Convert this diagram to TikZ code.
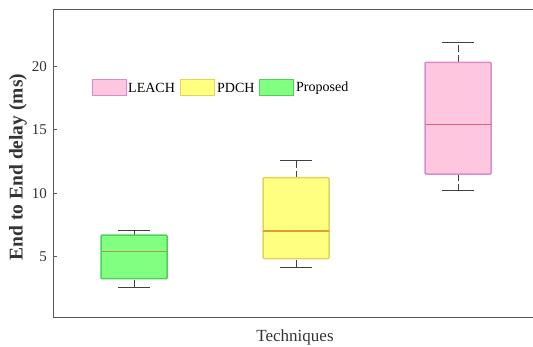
\documentclass[tikz,border=0pt]{standalone}
\usepackage{fontspec}
\setmainfont{Liberation Serif}
\definecolor{axisgray}{HTML}{5A5A5A}
\definecolor{labelgray}{HTML}{333333}
\definecolor{whiskgray}{HTML}{404040}
\definecolor{leachfill}{HTML}{FFC6DF}
\definecolor{leachedge}{HTML}{D98CCB}
\definecolor{leachmed}{HTML}{E0607E}
\definecolor{pdchfill}{HTML}{FFFF80}
\definecolor{pdchedge}{HTML}{E0D45A}
\definecolor{pdchmed}{HTML}{E09A3A}
\definecolor{propfill}{HTML}{80FF80}
\definecolor{propedge}{HTML}{4FCF5F}
\definecolor{propmed}{HTML}{A8A048}
\begin{document}
\begin{tikzpicture}[x=1pt,y=-1pt,
  declare function={yv(\v)=320-12.67*\v;},
  axisline/.style={draw=axisgray,line width=1pt},
  ticklabel/.style={anchor=east,inner sep=0pt,text=labelgray,font=\fontsize{15}{15}\selectfont},
  legendtext/.style={anchor=west,inner sep=0pt,text=black,font=\fontsize{14}{14}\selectfont},
  whisker/.style={draw=whiskgray,line width=0.9pt,dash pattern=on 7pt off 3pt},
  whiskcap/.style={draw=whiskgray,line width=1pt},
  medianline/.style={line width=1.2pt},
  swatch/.style={line width=1pt}]
  \useasboundingbox (0,0) rectangle (533,347);

  % axes frame (left, top, bottom)
  \draw[axisline] (533,10) -- (53,10) -- (53,318) -- (533,318);
  % y ticks and labels
  \foreach \v in {5,10,15,20}{
    \draw[axisline] (53,{yv(\v)}) -- (57,{yv(\v)});
    \node[ticklabel] (tick\v) at (47,{yv(\v)}) {\v};
  }

  % one box with whiskers:
  % center, half width, lower whisker, q1, median, q3, upper whisker, fill, edge, median colour
  \newcommand{\drawbox}[9]{%
    \draw[whisker] (#1,{yv(#6)}) -- (#1,{yv(#7)});
    \draw[whisker] (#1,{yv(#3)}) -- (#1,{yv(#4)});
    \draw[whiskcap] ({#1-16},{yv(#7)}) -- ({#1+16},{yv(#7)});
    \draw[whiskcap] ({#1-16},{yv(#3)}) -- ({#1+16},{yv(#3)});
    \draw[fill=#8,draw=#9,line width=1.5pt,rounded corners=1pt]
      ({#1-#2},{yv(#4)}) rectangle ({#1+#2},{yv(#6)});
  }

  % Proposed
  \drawbox{134}{33}{2.58}{3.26}{5.39}{6.70}{7.08}{propfill}{propedge}
  \draw[medianline,propmed] (101,{yv(5.39)}) -- (167,{yv(5.39)});
  % PDCH
  \drawbox{296}{33}{4.16}{4.84}{7.02}{11.23}{12.60}{pdchfill}{pdchedge}
  \draw[medianline,pdchmed] (263,{yv(7.02)}) -- (329,{yv(7.02)});
  % LEACH
  \drawbox{458}{33}{10.20}{11.52}{15.44}{20.34}{21.90}{leachfill}{leachedge}
  \draw[medianline,leachmed] (425,{yv(15.44)}) -- (491,{yv(15.44)});

  % legend
  \draw[swatch,fill=leachfill,draw=leachedge] (92,80) rectangle (126,95.5);
  \node[legendtext] (legLEACH) at (128,88) {LEACH};
  \draw[swatch,fill=pdchfill,draw=pdchedge] (180,80) rectangle (214,95.5);
  \node[legendtext] (legPDCH) at (217,88) {PDCH};
  \draw[swatch,fill=propfill,draw=propedge] (259,80) rectangle (293.5,95.5);
  \node[legendtext] (legProp) at (296,88) {Proposed};

  % axis titles
  \node[inner sep=0pt,font=\fontsize{17}{17}\selectfont,text=labelgray] (xlab) at (295,337) {Techniques};
  \node[inner sep=0pt,rotate=90,font=\bfseries\fontsize{19.5}{19.5}\selectfont,text=labelgray] (ylab) at (18,167) {End to End delay (ms)};
\end{tikzpicture}
\end{document}
